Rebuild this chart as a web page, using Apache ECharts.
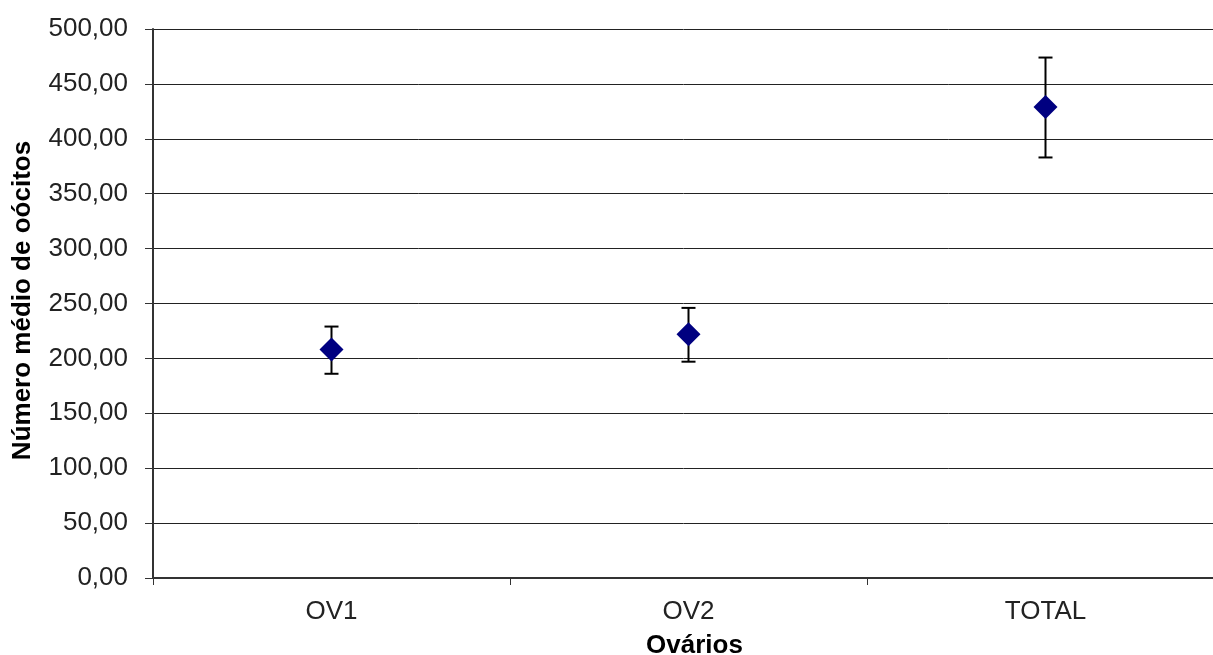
<!DOCTYPE html>
<html><head><meta charset="utf-8">
<script src="https://cdn.jsdelivr.net/npm/echarts@6/dist/echarts.min.js"></script>
<style>html,body{margin:0;padding:0;background:#fff;overflow:hidden}
#c{width:1213px;height:655px}</style>
</head><body><div id="c"></div>
<script>
const categories = ['OV1', 'OV2', 'TOTAL'];
const means = [208, 222, 429];
const lows = [186, 197, 383];
const highs = [229, 246, 474];

const chart = echarts.init(document.getElementById('c'));
const font = 'Liberation Sans, Arial, sans-serif';
chart.setOption({
  animation: false,
  grid: { left: 153, right: -11, top: 29, bottom: 77, containLabel: false, outerBoundsMode: 'none' },
  xAxis: {
    type: 'category', data: categories, boundaryGap: true,
    name: 'Ovários', nameLocation: 'middle', nameGap: 55,
    nameTextStyle: { fontFamily: font, fontSize: 26, fontWeight: 'bold', color: '#000', padding: [0, 0, 0, 12] },
    axisLine: { lineStyle: { color: '#333', width: 2 } },
    axisTick: { show: true, length: 7, lineStyle: { color: '#333', width: 1 } },
    axisLabel: { fontFamily: font, fontSize: 26, color: '#222', margin: 21 }
  },
  yAxis: {
    type: 'value', min: 0, max: 500, interval: 50,
    name: 'Número médio de oócitos', nameLocation: 'middle', nameGap: 117,
    nameTextStyle: { fontFamily: font, fontSize: 26, fontWeight: 'bold', color: '#000', padding: [0, 0, 0, 6] },
    axisLine: { show: true, lineStyle: { color: '#333', width: 2 } },
    axisTick: { show: true, length: 8, lineStyle: { color: '#333', width: 1 } },
    axisLabel: { fontFamily: font, fontSize: 26, color: '#222', margin: 25,
      formatter: v => v.toFixed(2).replace('.', ',') },
    splitLine: { show: true, lineStyle: { color: '#222', width: 1 } }
  },
  series: [
    {
      type: 'custom',
      data: categories.map((c, i) => [i, lows[i], highs[i]]),
      renderItem: function (params, api) {
        const x = api.value(0);
        const lo = api.coord([x, api.value(1)]);
        const hi = api.coord([x, api.value(2)]);
        const hw = 7;
        const style = { stroke: '#000', lineWidth: 2 };
        return {
          type: 'group',
          children: [
            { type: 'line', shape: { x1: hi[0], y1: hi[1], x2: lo[0], y2: lo[1] }, style },
            { type: 'line', shape: { x1: hi[0] - hw, y1: hi[1], x2: hi[0] + hw, y2: hi[1] }, style },
            { type: 'line', shape: { x1: lo[0] - hw, y1: lo[1], x2: lo[0] + hw, y2: lo[1] }, style }
          ]
        };
      },
      z: 2
    },
    {
      type: 'scatter',
      data: means,
      symbol: 'diamond',
      symbolSize: [24, 24],
      itemStyle: { color: '#000080', opacity: 1 },
      z: 3
    }
  ]
});
</script>
</body></html>
